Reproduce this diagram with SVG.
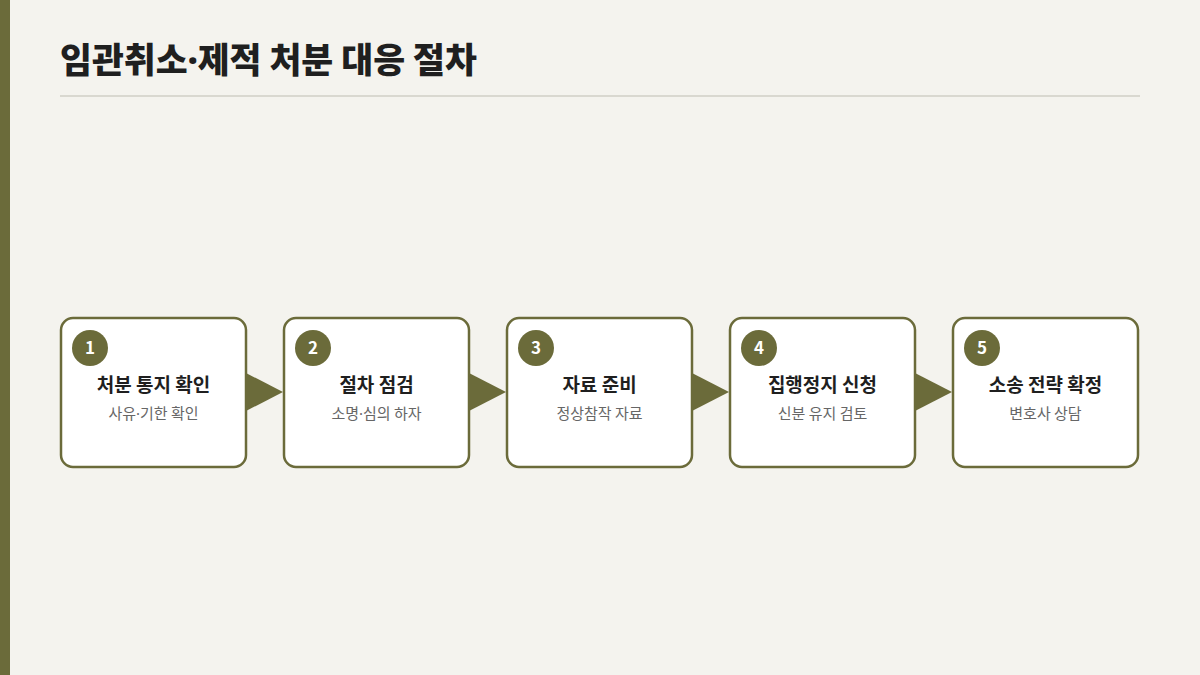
<svg xmlns="http://www.w3.org/2000/svg" width="1200" height="675" viewBox="0 0 1200 675">
<style>
.title{font-family:"Noto Sans CJK KR","Noto Sans",sans-serif;font-weight:900;font-size:34.7px;fill:#1f1f1f}
.box{fill:#ffffff;stroke:#6b6b3a;stroke-width:2.5}
.num{fill:#6b6b3a}
.numt{font-family:"Noto Sans CJK KR","Noto Sans",sans-serif;font-weight:700;font-size:17px;fill:#ffffff;text-anchor:middle}
.h{font-family:"Noto Sans CJK KR","Noto Sans",sans-serif;font-weight:700;font-size:19px;fill:#1f1f1f;text-anchor:middle}
.s{font-family:"Noto Sans CJK KR","Noto Sans",sans-serif;font-size:15px;fill:#666666;text-anchor:middle}
.dot{font-family:"Noto Sans",sans-serif}
.arr{fill:#6b6b3a}
</style>
<rect width="1200" height="675" fill="#f4f3ee"/>
<rect x="0" y="0" width="10" height="675" fill="#6b6b3a"/>
<text class="title" x="60" y="73">임관취소<tspan class="dot">·</tspan>제적 처분 대응 절차</text>
<line x1="60" y1="96" x2="1140" y2="96" stroke="#d9d8d0" stroke-width="2"/>
<g id="step1">
<rect class="box" x="61" y="318" width="185" height="149" rx="12"/>
<circle class="num" cx="90" cy="348" r="18"/>
<text class="numt" x="90" y="354">1</text>
<text class="h" x="153.5" y="392">처분 통지 확인</text>
<text class="s" x="153.5" y="419">사유<tspan class="dot">·</tspan>기한 확인</text>
</g>
<g id="step2">
<rect class="box" x="284" y="318" width="185" height="149" rx="12"/>
<circle class="num" cx="313" cy="348" r="18"/>
<text class="numt" x="313" y="354">2</text>
<text class="h" x="376.5" y="392">절차 점검</text>
<text class="s" x="376.5" y="419">소명<tspan class="dot">·</tspan>심의 하자</text>
</g>
<g id="step3">
<rect class="box" x="507" y="318" width="185" height="149" rx="12"/>
<circle class="num" cx="536" cy="348" r="18"/>
<text class="numt" x="536" y="354">3</text>
<text class="h" x="599.5" y="392">자료 준비</text>
<text class="s" x="599.5" y="419">정상참작 자료</text>
</g>
<g id="step4">
<rect class="box" x="730" y="318" width="185" height="149" rx="12"/>
<circle class="num" cx="759" cy="348" r="18"/>
<text class="numt" x="759" y="354">4</text>
<text class="h" x="822.5" y="392">집행정지 신청</text>
<text class="s" x="822.5" y="419">신분 유지 검토</text>
</g>
<g id="step5">
<rect class="box" x="953" y="318" width="185" height="149" rx="12"/>
<circle class="num" cx="982" cy="348" r="18"/>
<text class="numt" x="982" y="354">5</text>
<text class="h" x="1045.5" y="392">소송 전략 확정</text>
<text class="s" x="1045.5" y="419">변호사 상담</text>
</g>
<g id="connectors">
<polygon class="arr" points="246,373 283,392 246,411"/>
<polygon class="arr" points="469,373 506,392 469,411"/>
<polygon class="arr" points="692,373 729,392 692,411"/>
<polygon class="arr" points="915,373 952,392 915,411"/>
</g>
</svg>
